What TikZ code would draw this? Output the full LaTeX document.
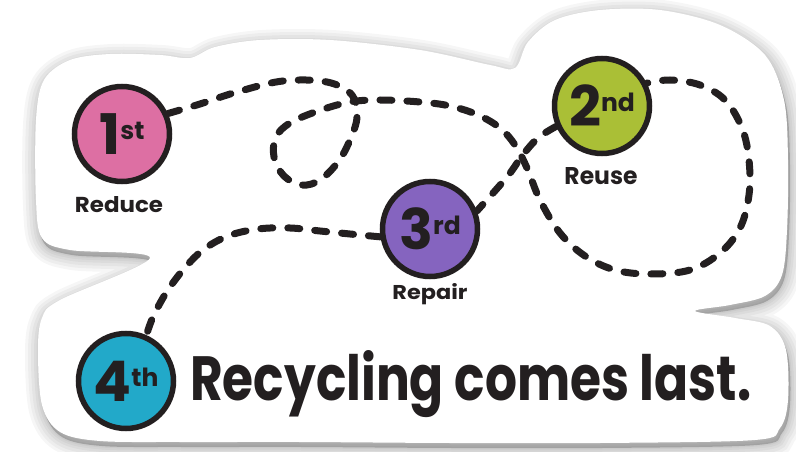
\documentclass[tikz,border=0pt]{standalone}
\usepackage{fontspec}
\usepackage{graphicx}
\newfontfamily\pop{Poppins}
\definecolor{pinkc}{HTML}{DD6FA3}
\definecolor{greenc}{HTML}{AABF36}
\definecolor{purplec}{HTML}{8564BF}
\definecolor{cyanc}{HTML}{22A9C9}
\definecolor{inkc}{HTML}{231F20}
\tikzset{
  stepcirc/.style={circle, draw=inkc, line width=5.5pt, minimum size=95pt, inner sep=0pt, font=\pop\bfseries, text=inkc},
  trail/.style={draw=inkc, line width=7pt, line cap=round, dash pattern=on 12pt off 15pt},
  lbl/.style={font=\pop\bfseries, text=inkc, inner sep=0pt},
}
\newcommand\ordn[2]{{\fontsize{56}{56}\selectfont #1}\raisebox{15pt}{\fontsize{25}{25}\selectfont #2}}
\newcommand\stickerblob[1]{\path[#1] plot[smooth cycle, tension=0.55] coordinates {
 (36,120) (44,80) (70,60) (110,54) (160,55) (190,58) (215,47) (260,40) (330,40) (420,50) (490,65) (515,68)
 (528,42) (555,20) (600,10) (660,10) (720,25) (765,55) (784,100) (788,160) (787,230) (782,275) (765,296)
 (730,305) (695,311) (735,318) (770,326) (786,350) (788,400) (780,428) (755,440) (600,443) (450,443)
 (300,442) (180,442) (100,441) (60,432) (42,405) (38,350) (42,318) (60,300) (150,258) (70,250) (42,238) (36,200)};}
\begin{document}
\begin{tikzpicture}[x=1pt, y=-1pt]
\useasboundingbox (0,0) rectangle (796,452);
\fill[white] (0,0) rectangle (796,452);
% shadow
\begin{scope}[shift={(2,5)}]
  \foreach \w in {30,24,18,12,7,3} {\stickerblob{draw=black, opacity=.035, line width=\w pt}}
  \stickerblob{fill=black, opacity=.2}
\end{scope}
% sticker
\stickerblob{fill=white}
% circles
\node[stepcirc, fill=pinkc] (c1) at (122,134) {\ordn{1}{st}};
\node[stepcirc, fill=greenc] (c2) at (602,106) {\ordn{2}{nd}};
\node[stepcirc, fill=purplec] (c3) at (430,229) {\ordn{3}{rd}};
\node[stepcirc, fill=cyanc] (c4) at (126,381) {\ordn{4}{th}};
% trails
\draw[trail] plot[smooth, tension=0.6] coordinates {(c1.24) (200,104) (237,92) (283,81) (327,82) (352,95) (357,117) (350,140) (338,162) (320,180) (302,185) (284,176) (274,157) (276,137) (290,123) (318,111) (350,102) (380,100) (420,102) (450,106) (478,115) (500,128) (515,145) (527,168) (540,200) (560,233) (585,256) (615,270) (650,274) (690,270) (720,253) (740,228) (749,195) (749,160) (742,128) (725,100) (700,85) (670,80) (c2.27)};
\draw[trail] plot[smooth, tension=0.6] coordinates {(c2.204) (538,138) (522,156) (507,177) (c3.21)};
\draw[trail] plot[smooth, tension=0.6] coordinates {(c3.189) (350,234) (320,231) (290,228) (258,229) (228,236) (203,250) (183,270) (166,293) (153,317) (c4.66)};
% labels
\node[lbl] (l1) at (119,205) {\resizebox{88pt}{16pt}{Reduce}};
\node[lbl] (l2) at (601,176) {\resizebox{73pt}{17pt}{Reuse}};
\node[lbl, anchor=base] (l3) at (430,299) {\resizebox{75pt}{16pt}{Repair}};
\node[lbl, anchor=base west] (t) at (190,400) {\resizebox{561pt}{50pt}{Recycling comes last.}};
\end{tikzpicture}
\end{document}
